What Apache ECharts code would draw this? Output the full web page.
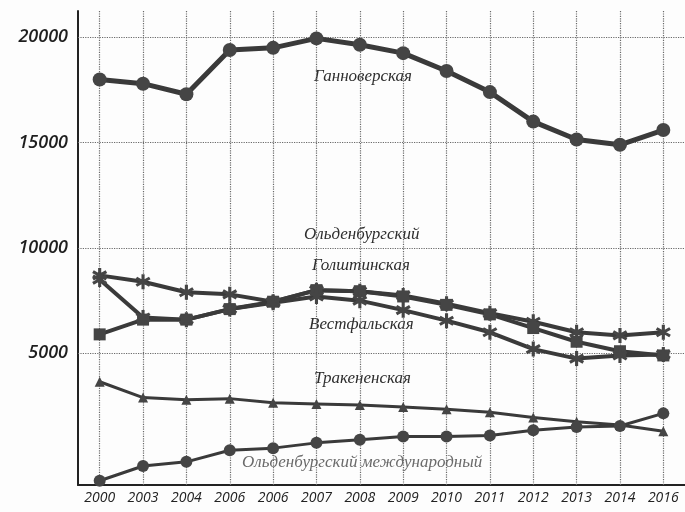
<!DOCTYPE html>
<html>
<head>
<meta charset="utf-8">
<script src="https://cdn.jsdelivr.net/npm/echarts@6/dist/echarts.min.js"></script>
<style>
  html, body { margin: 0; padding: 0; background: #fdfdfd; }
  #chart { width: 685px; height: 512px; }
</style>
</head>
<body>
<div id="chart"></div>
<script>
var years = ['2000', '2003', '2004', '2006', '2006', '2007', '2008', '2009', '2010', '2011', '2012', '2013', '2014', '2016']
var gridValues = [5000, 10000, 15000, 20000]

var hannover = [18000, 17800, 17300, 19400, 19500, 19950, 19650, 19250, 18400, 17400, 16000, 15150, 14900, 15600]
var oldenburg = [8700, 8400, 7900, 7800, 7450, 8000, 7950, 7750, 7350, 6900, 6500, 6000, 5850, 6000]
var holstein = [5900, 6600, 6600, 7100, 7450, 8000, 7950, 7700, 7300, 6850, 6200, 5550, 5100, 4900]
var westfalen = [8500, 6700, 6600, 7100, 7400, 7700, 7500, 7050, 6550, 6000, 5200, 4750, 4900, 4950]
var trakehner = [3650, 2900, 2800, 2850, 2650, 2600, 2550, 2450, 2350, 2200, 1950, 1750, 1600, 1300]
var oldenburgIntl = [-1050, -350, -150, 400, 500, 750, 900, 1050, 1050, 1100, 1350, 1500, 1550, 2150]

var ink = '#3a3a3a'
var star = 'path://M-1,-5L1,-5L1,5L-1,5Z M3.83,-3.37L4.83,-1.63L-3.83,3.37L-4.83,1.63Z M4.83,1.63L3.83,3.37L-4.83,-1.63L-3.83,-3.37Z'

function lineSeries (name, data, symbol, size, width) {
  return {
    name: name,
    type: 'line',
    data: data,
    symbol: symbol,
    symbolSize: size,
    showSymbol: true,
    lineStyle: { color: ink, width: width },
    itemStyle: { color: '#454545', borderWidth: 0 },
    z: 3
  }
}

function note (text, x, y, color) {
  return {
    type: 'text',
    left: x,
    top: y,
    style: {
      text: text,
      fontSize: 17,
      fontStyle: 'italic',
      fontFamily: 'Liberation Serif',
      fill: color || '#2e2e2e'
    }
  }
}

var vLines = years.map(function (y, i) { return { xAxis: i } })
var hLines = gridValues.map(function (v) { return { yAxis: v } })

var chart = echarts.init(document.getElementById('chart'))
chart.setOption({
  backgroundColor: '#fdfdfd',
  animation: false,
  grid: { left: 78, right: 0, top: 11, bottom: 27 },
  xAxis: {
    type: 'category',
    data: years,
    boundaryGap: true,
    axisLine: { onZero: false, lineStyle: { color: '#222', width: 2 } },
    axisTick: { show: false },
    splitLine: { show: false },
    axisLabel: {
      color: '#222',
      fontSize: 14,
      fontStyle: 'italic',
      fontFamily: '"Open Sans", sans-serif',
      margin: 6,
      interval: 0
    }
  },
  yAxis: {
    type: 'value',
    min: -1250,
    max: 21250,
    interval: 1250,
    axisLine: { show: true, lineStyle: { color: '#222', width: 2 } },
    axisTick: { show: false },
    splitLine: { show: false },
    axisLabel: {
      color: '#1e1e1e',
      fontSize: 18,
      fontStyle: 'italic',
      fontWeight: 600,
      fontFamily: '"Open Sans", sans-serif',
      margin: 10,
      formatter: function (v) {
        return (v > 0 && v % 5000 === 0) ? String(v) : ''
      }
    }
  },
  series: [
    {
      type: 'line',
      data: [],
      silent: true,
      z: 1,
      markLine: {
        silent: true,
        symbol: 'none',
        z: 1,
        label: { show: false },
        lineStyle: { color: '#6a6a6a', type: 'dotted', width: 1.2 },
        data: vLines.concat(hLines)
      }
    },
    lineSeries('Ганноверская', hannover, 'circle', 14, 5),
    lineSeries('Ольденбургский', oldenburg, star, 15, 4),
    lineSeries('Голштинская', holstein, 'rect', 12, 4),
    lineSeries('Вестфальская', westfalen, star, 15, 4),
    lineSeries('Тракененская', trakehner, 'triangle', 10, 3),
    lineSeries('Ольденбургский международный', oldenburgIntl, 'circle', 12, 3)
  ],
  graphic: [
    note('Ганноверская', 314, 68),
    note('Ольденбургский', 304, 226),
    note('Голштинская', 312, 257),
    note('Вестфальская', 309, 316),
    note('Тракененская', 314, 370),
    note('Ольденбургский международный', 242, 454, '#6a6a6a')
  ]
})
</script>
</body>
</html>
